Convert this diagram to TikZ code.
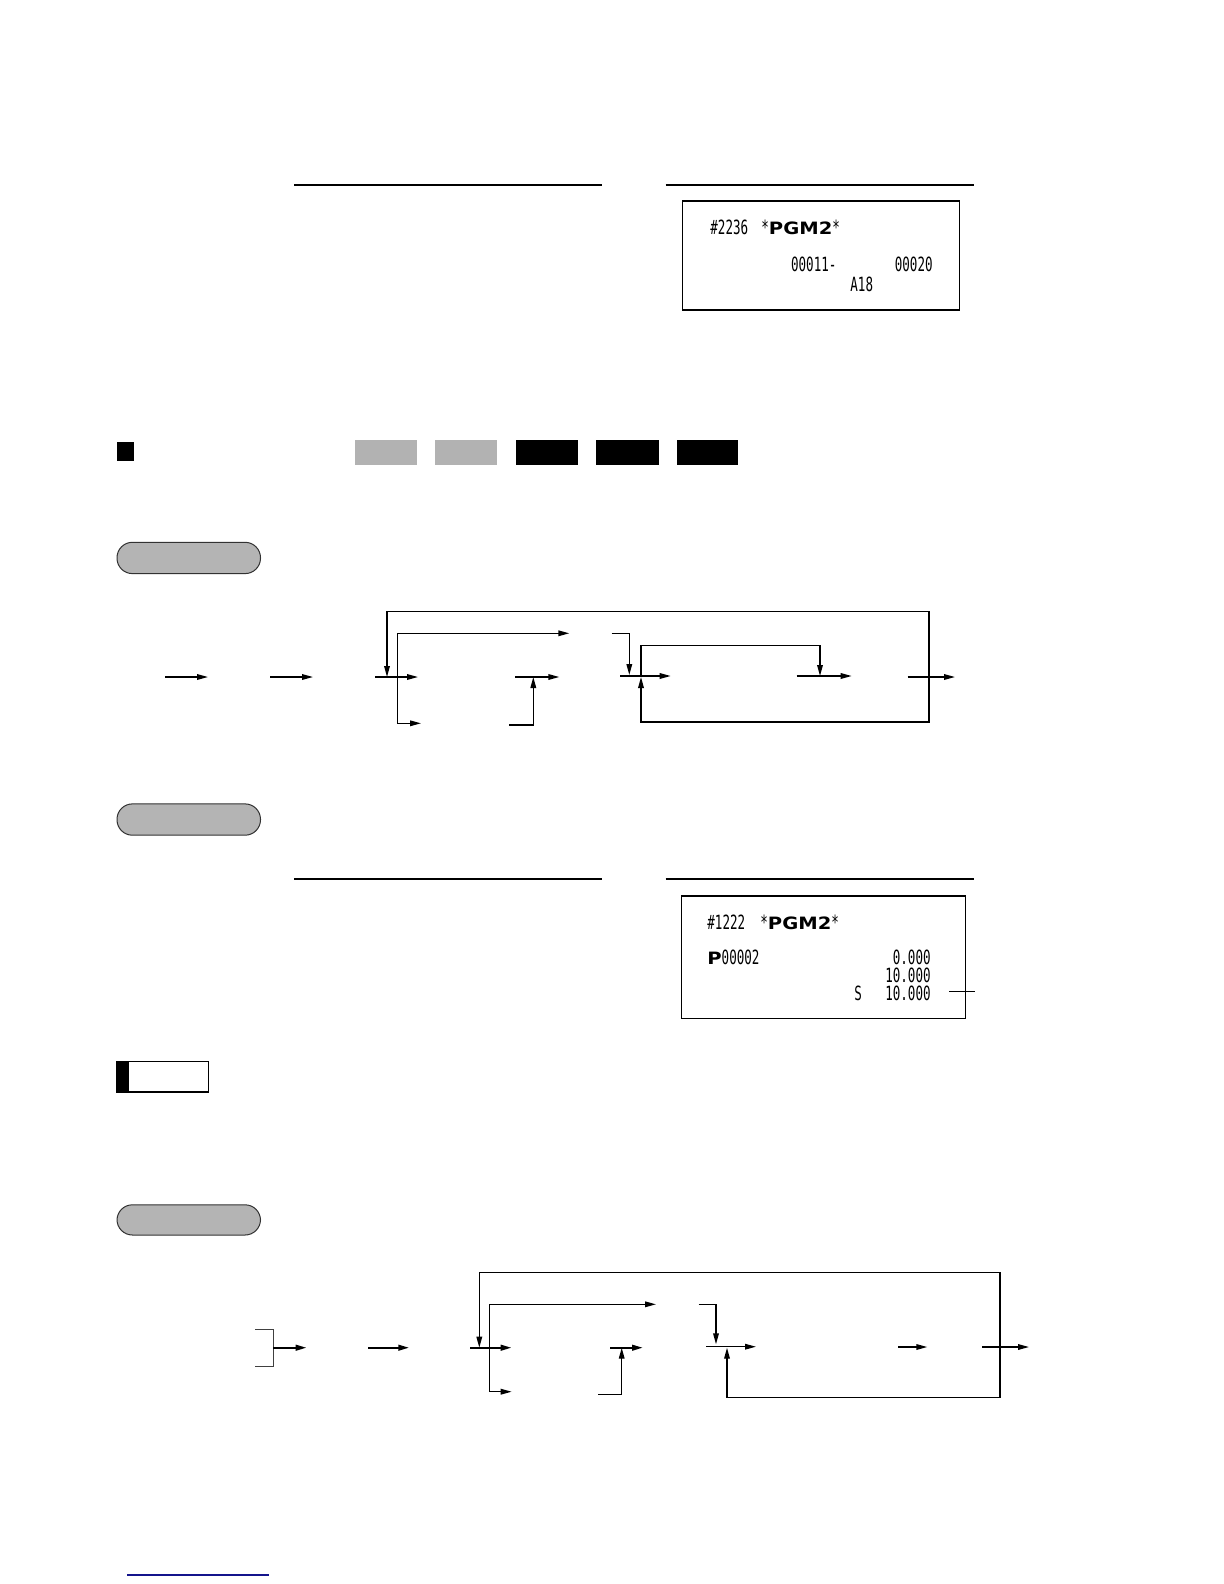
\documentclass[tikz,border=0pt]{standalone}
\usepackage{fontspec}
\usetikzlibrary{arrows.meta}
\newfontfamily\rcfont[FakeStretch=0.64]{DejaVu Sans Mono}
\newfontfamily\pgmfont[FakeStretch=1.15]{DejaVu Sans}
\definecolor{keygray}{RGB}{178,178,178}
\definecolor{pillgray}{RGB}{180,180,180}
\definecolor{pillline}{RGB}{50,50,50}
\definecolor{linkblue}{RGB}{20,20,140}
\tikzset{
  rc/.style={inner sep=0pt, font=\rcfont\fontsize{9.8}{10}\selectfont},
  pgm/.style={inner sep=0pt},
  rule/.style={line width=1.1pt},
  rbox/.style={draw, line width=0.6pt},
  ln/.style={line width=0.7pt},
  tk/.style={line width=1.1pt},
  arr/.style={-{Triangle[length=5.5pt,width=2.8pt]}},
  darr/.style={{Triangle[length=5.5pt,width=2.8pt]}-{Triangle[length=5.5pt,width=2.8pt]}},
  pill/.style={draw=pillline, fill=pillgray, line width=0.5pt, rounded corners=7.7pt},
}
\newcommand{\pgmtext}{{\rcfont\fontsize{9.8}{10}\selectfont *}{\pgmfont\bfseries\fontsize{8.5}{9}\selectfont PGM2}{\rcfont\fontsize{9.8}{10}\selectfont *}}
\begin{document}
\begin{tikzpicture}[x=0.5pt,y=-0.5pt]
\useasboundingbox (0,0) rectangle (1224,1584);
\fill[white] (0,0) rectangle (1224,1584);

% ---------- top rules and receipt 1 ----------
\draw[rule] (294,185) -- (602,185);
\draw[rule] (665.5,185) -- (973.5,185);
\draw[rbox] (682.7,201) rectangle (959.4,310);
\node[rc, anchor=base west] (r1a) at (710,234) {\#2236};
\node[pgm, anchor=base west] (r1b) at (761,234) {\pgmtext};
\node[rc, anchor=base west] (r1c) at (790.7,271.6) {00011-};
\node[rc, anchor=base east] (r1d) at (933,271.6) {00020};
\node[rc, anchor=base west] (r1e) at (850,291) {A18};

% ---------- heading square and mode keys ----------
\fill (117,442) rectangle (134,461);
\fill[keygray] (354.5,440) rectangle (417,465);
\fill[keygray] (434.5,440) rectangle (497,465);
\fill (515.5,440) rectangle (578,465);
\fill (596,440) rectangle (658.5,465);
\fill (676.5,440) rectangle (738,465);

% ---------- pill 1 ----------
\draw[pill] (117,542.3) rectangle (260.5,573.6);

% ---------- flow diagram 1 ----------
\coordinate (a1s) at (165,677);   \coordinate (a1e) at (208,677);
\coordinate (a2s) at (270,677);   \coordinate (a2e) at (313,677);
\coordinate (a3s) at (375,677);   \coordinate (a3e) at (418,677);
\coordinate (b1) at (397.7,677);
\coordinate (b1t) at (569.3,633.3);
\coordinate (b1b) at (421,723.3);
\coordinate (a4s) at (515,677);   \coordinate (a4e) at (559.3,677);
\coordinate (c1s) at (509.3,725); \coordinate (c1e) at (533.3,677);
\coordinate (d1s) at (611.7,633.3); \coordinate (d1e) at (629.3,675);
\coordinate (a5s) at (620,676);   \coordinate (a5e) at (670.7,676);
\coordinate (i1s) at (641,676);   \coordinate (i1e) at (820,676);
\coordinate (a6s) at (796.7,676); \coordinate (a6e) at (851.7,676);
\coordinate (a7s) at (907.7,677); \coordinate (a7e) at (955,677);
\coordinate (o1a) at (641,677);   \coordinate (o1b) at (387,677);

\draw[ln,arr] (a1s) -- (a1e);
\draw[ln,arr] (a2s) -- (a2e);
\draw[ln,arr] (a3s) -- (a3e);
\draw[ln,arr] (b1) |- (b1t);
\draw[ln,arr] (b1) |- (b1b);
\draw[ln,arr] (a4s) -- (a4e);
\draw[ln,arr] (c1s) -| (c1e);
\draw[ln,arr] (d1s) -| (d1e);
\draw[ln,arr] (a5s) -- (a5e);
\draw[ln,arr] (i1s) -- (641,645.3) -- (820,645.3) -- (i1e);
\draw[ln,arr] (a6s) -- (a6e);
\draw[ln,arr] (a7s) -- (a7e);
\draw[ln,darr] (o1a) -- (641,722) -- (929,722) -- (929,611.7) -- (387,611.7) -- (o1b);

% ---------- pill 2 ----------
\draw[pill] (117,803.9) rectangle (260.5,835.2);

% ---------- rules and receipt 2 ----------
\draw[rule] (294,879) -- (602,879);
\draw[rule] (665.5,879) -- (973.5,879);
\draw[rbox] (681.7,896) rectangle (965.3,1018.7);
\node[rc, anchor=base west] (r2a) at (707,929) {\#1222};
\node[pgm, anchor=base west] (r2b) at (760,929) {\pgmtext};
\node[rc, anchor=base west] (r2c) at (707,964.3) {{\pgmfont\bfseries\fontsize{8.5}{9}\selectfont P}00002};
\node[rc, anchor=base east] (r2d) at (931,964.3) {0.000};
\node[rc, anchor=base east] (r2e) at (931,982.3) {10.000};
\node[rc, anchor=base west] (r2f) at (854,1000.3) {S};
\node[rc, anchor=base east] (r2g) at (931,1000.3) {10.000};
\coordinate (m1) at (949.3,991.7);
\coordinate (m2) at (975,991.7);
\draw[line width=0.6pt] (m1) -- (m2);

% ---------- note box ----------
\draw[line width=0.8pt] (117,1061.4) rectangle (208.5,1091.7);
\fill (117,1061.4) rectangle (128.7,1091.7);

% ---------- pill 3 ----------
\draw[pill] (117,1204.8) rectangle (260.5,1235);

% ---------- flow diagram 2 ----------
\coordinate (br1) at (255,1329.7);
\coordinate (br2) at (255,1366.7);
\coordinate (e1s) at (273.3,1347.7); \coordinate (e1e) at (306.7,1347.7);
\coordinate (e2s) at (368.3,1347.7); \coordinate (e2e) at (409.3,1347.7);
\coordinate (e3s) at (470,1347.7);   \coordinate (e3e) at (511.7,1347.7);
\coordinate (f1) at (489.3,1347.7);
\coordinate (f1t) at (656,1304.3);
\coordinate (f1b) at (511.7,1391.7);
\coordinate (e4s) at (610,1347.7);   \coordinate (e4e) at (643,1347.7);
\coordinate (g1s) at (598.3,1394.7); \coordinate (g1e) at (621.7,1347.7);
\coordinate (h1s) at (698.7,1304.3); \coordinate (h1e) at (716,1344.3);
\coordinate (e5s) at (706,1346.7);   \coordinate (e5e) at (756,1346.7);
\coordinate (e6s) at (898.3,1347);   \coordinate (e6e) at (927.3,1347);
\coordinate (e7s) at (982.3,1347);   \coordinate (e7e) at (1029,1347);
\coordinate (o2a) at (727,1347.7);   \coordinate (o2b) at (479.3,1347.7);

\draw[line width=0.6pt, draw=black!75] (br1) -- (273.3,1329.7) -- (273.3,1366.7) -- (br2);
\draw[tk,arr] (e1s) -- (e1e);
\draw[tk,arr] (e2s) -- (e2e);
\draw[tk,arr] (e3s) -- (e3e);
\draw[ln,arr] (f1) |- (f1t);
\draw[ln,arr] (f1) |- (f1b);
\draw[tk,arr] (e4s) -- (e4e);
\draw[ln,arr] (g1s) -| (g1e);
\draw[ln,arr] (h1s) -| (h1e);
\draw[ln,arr] (e5s) -- (e5e);
\draw[ln,arr] (e6s) -- (e6e);
\draw[ln,arr] (e7s) -- (e7e);
\draw[ln,darr] (o2a) -- (727,1397.7) -- (1000,1397.7) -- (1000,1272.3) -- (479.3,1272.3) -- (o2b);

% ---------- bottom link underline ----------
\draw[line width=0.9pt, linkblue] (127,1575) -- (269,1575);
\end{tikzpicture}
\end{document}
